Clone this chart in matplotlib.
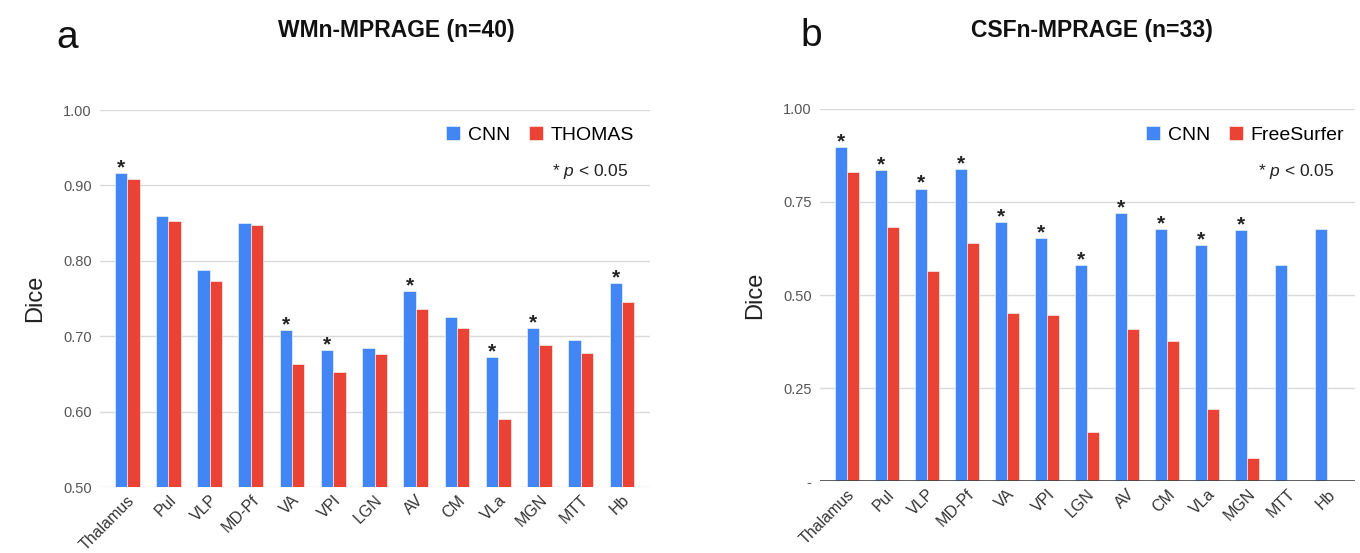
import numpy as np
import matplotlib
matplotlib.use("Agg")
import matplotlib.pyplot as plt

plt.rcParams['font.family'] = ['Liberation Sans', 'DejaVu Sans']
plt.rcParams['mathtext.fontset'] = 'custom'
plt.rcParams['mathtext.it'] = 'Liberation Sans:italic'
plt.rcParams['mathtext.rm'] = 'Liberation Sans'

# Data
regions = ["Thalamus", "Pul", "VLP", "MD-Pf", "VA", "VPl", "LGN",
           "AV", "CM", "VLa", "MGN", "MTT", "Hb"]

wmn_cnn = [0.916, 0.860, 0.788, 0.850, 0.708, 0.682, 0.685,
           0.760, 0.725, 0.672, 0.711, 0.695, 0.770]
wmn_thomas = [0.908, 0.853, 0.773, 0.847, 0.663, 0.652, 0.677,
              0.736, 0.711, 0.590, 0.689, 0.678, 0.745]
wmn_sig = [True, False, False, False, True, True, False,
           True, False, True, True, False, True]

csf_cnn = [0.898, 0.835, 0.786, 0.838, 0.696, 0.652, 0.580,
           0.721, 0.677, 0.635, 0.674, 0.580, 0.677]
csf_freesurfer = [0.830, 0.684, 0.564, 0.640, 0.453, 0.446, 0.133,
                  0.409, 0.376, 0.193, 0.063, 0.0, 0.0]
csf_sig = [True, True, True, True, True, True, True,
           True, True, True, True, False, False]

BLUE = "#4285F4"
RED = "#EA4335"
GRID = "#DADADA"
TICK = "#555555"


def draw_panel(ax, cnn, other, sig, other_name, ylim, yticks, yticklabels):
    x = np.arange(len(regions))
    w = 0.30
    b1 = ax.bar(x - w / 2, cnn, w, color=BLUE, edgecolor="white", linewidth=0.4, zorder=3, label="CNN")
    b2 = ax.bar(x + w / 2, other, w, color=RED, edgecolor="white", linewidth=0.4, zorder=3, label=other_name)
    ax.set_ylim(*ylim)
    ax.set_xlim(-0.66, len(regions) - 1 + 0.68)
    ax.set_yticks(yticks)
    ax.set_yticklabels(yticklabels, color=TICK, fontsize=10.5)
    ax.set_xticks(x)
    ax.set_xticklabels(regions, rotation=45, ha="right", rotation_mode="anchor",
                       color="#333333", fontsize=11.5)
    ax.tick_params(axis="y", length=0, pad=6)
    ax.tick_params(axis="x", length=0, pad=4)
    ax.grid(axis="y", color=GRID, linewidth=1.0, zorder=0)
    for s in ax.spines.values():
        s.set_visible(False)
    ax.set_ylabel("Dice", fontsize=17, color="#222222", labelpad=12)
    # significance stars above the CNN bars
    for xi, v, s in zip(x, cnn, sig):
        if s:
            ax.annotate("*", (xi - w / 2, v), xytext=(0, -3), textcoords="offset points",
                        ha="center", va="bottom", fontsize=15, fontweight="bold",
                        color="#222222", zorder=4)
    return b1, b2


fig = plt.figure(figsize=(13.6, 5.53), dpi=100)
ax1 = fig.add_axes([0.0735, 0.1193, 0.4044, 0.6817])
ax2 = fig.add_axes([0.603, 0.130, 0.393, 0.673])

h1 = draw_panel(ax1, wmn_cnn, wmn_thomas, wmn_sig, "THOMAS", (0.5, 1.0),
                [0.5, 0.6, 0.7, 0.8, 0.9, 1.0],
                ["0.50", "0.60", "0.70", "0.80", "0.90", "1.00"])
h2 = draw_panel(ax2, csf_cnn, csf_freesurfer, csf_sig, "FreeSurfer", (0.0, 1.0),
                [0.0, 0.25, 0.5, 0.75, 1.0],
                ["-", "0.25", "0.50", "0.75", "1.00"])
ax2.axhline(0, color="#444444", linewidth=1.2, zorder=4)

leg_kw = dict(loc="center right", frameon=False, ncol=2, fontsize=14,
              handlelength=0.7, handleheight=0.7, handletextpad=0.4,
              columnspacing=1.0, borderpad=0, borderaxespad=0)
ax1.legend(handles=h1, bbox_to_anchor=(0.971, 0.934), **leg_kw)
ax2.legend(handles=h2, bbox_to_anchor=(0.981, 0.930), **leg_kw)

ax1.text(0.96, 0.836, r"* $\it{p}$ < 0.05", transform=ax1.transAxes,
         ha="right", va="center", fontsize=12.5, color="#222222")
ax2.text(0.961, 0.831, r"* $\it{p}$ < 0.05", transform=ax2.transAxes,
         ha="right", va="center", fontsize=12.5, color="#222222")

fig.text(396 / 1360, 1 - 30 / 553, "WMn-MPRAGE (n=40)", ha="center", va="center",
         fontsize=16.5, fontweight="bold", color="#111111")
fig.text(1092 / 1360, 1 - 30 / 553, "CSFn-MPRAGE (n=33)", ha="center", va="center",
         fontsize=16.5, fontweight="bold", color="#111111")
fig.text(67 / 1360, 1 - 38 / 553, "a", ha="center", va="center", fontsize=28, color="#111111")
fig.text(811 / 1360, 1 - 36 / 553, "b", ha="center", va="center", fontsize=28, color="#111111")

fig.savefig("out.png", dpi=100)
